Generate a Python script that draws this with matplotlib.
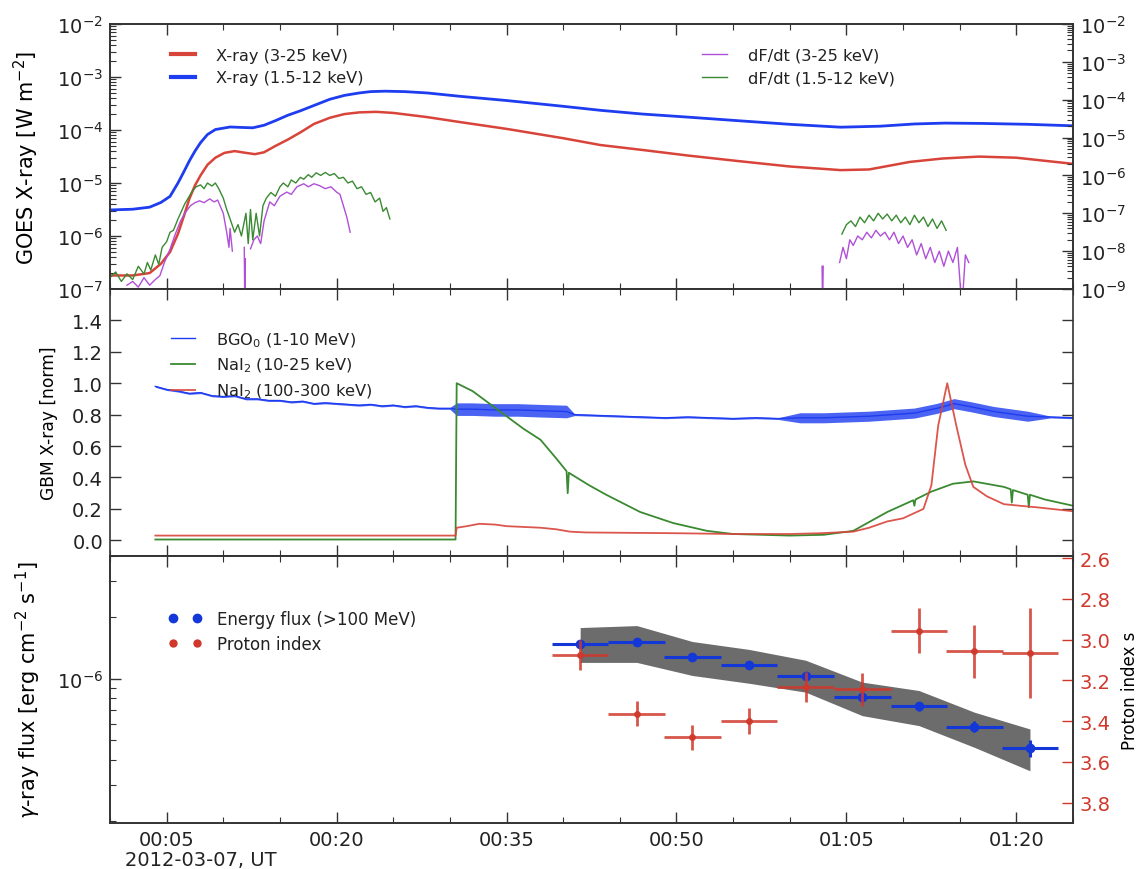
import numpy as np
import matplotlib
matplotlib.use("Agg")
import matplotlib.pyplot as plt
from matplotlib.lines import Line2D
from matplotlib.ticker import (MultipleLocator, FixedLocator, FuncFormatter,
                               LogLocator, NullFormatter)

# ---------------- data (time in minutes after 2012-03-07 00:00 UT) -------------
# GOES X-ray (1.5-12 keV)
goes_long_t = [0, 2, 3.5, 4.5, 5.3, 6, 6.5, 7, 7.5, 8, 8.6, 9.3, 10.6, 11.5, 12.6, 13.6,
               14.6, 15.7, 16.8, 18, 19.4, 20.7, 22, 23, 24.3, 26, 28, 31, 35, 40, 43.3,
               47, 51, 55.4, 60, 64.5, 68, 71, 73.7, 77, 81, 85]
goes_long = [3.1e-6, 3.2e-6, 3.5e-6, 4.3e-6, 5.6e-6, 1.0e-5, 1.6e-5, 2.6e-5, 4.0e-5,
             5.8e-5, 8.2e-5, 1.02e-4, 1.14e-4, 1.12e-4, 1.1e-4, 1.23e-4, 1.5e-4, 1.9e-4,
             2.3e-4, 2.9e-4, 3.8e-4, 4.5e-4, 5.0e-4, 5.3e-4, 5.4e-4, 5.3e-4, 5.0e-4,
             4.3e-4, 3.6e-4, 2.8e-4, 2.35e-4, 2.0e-4, 1.75e-4, 1.5e-4, 1.28e-4, 1.13e-4,
             1.18e-4, 1.3e-4, 1.35e-4, 1.33e-4, 1.28e-4, 1.2e-4]
# GOES X-ray (3-25 keV)
goes_short_t = [0, 2, 3.5, 4.5, 5.3, 6, 6.5, 7, 7.5, 8, 8.6, 9.3, 10.1, 11, 12, 12.8,
                13.6, 14.6, 15.7, 16.8, 18, 19.4, 20.7, 22, 23.5, 25, 28, 31, 35, 40,
                43.3, 47, 51, 55.4, 60, 64.5, 67, 70.6, 73.5, 76.7, 80, 85]
goes_short = [1.8e-7, 1.8e-7, 2.0e-7, 3.0e-7, 5.0e-7, 1.1e-6, 2.3e-6, 5.0e-6, 9.0e-6,
              1.4e-5, 2.2e-5, 3.0e-5, 3.7e-5, 4.0e-5, 3.7e-5, 3.5e-5, 3.8e-5, 5.0e-5,
              6.6e-5, 9.0e-5, 1.3e-4, 1.7e-4, 2.0e-4, 2.15e-4, 2.2e-4, 2.1e-4, 1.75e-4,
              1.4e-4, 1.05e-4, 7.0e-5, 5.2e-5, 4.2e-5, 3.3e-5, 2.6e-5, 2.05e-5, 1.75e-5,
              1.8e-5, 2.5e-5, 2.9e-5, 3.15e-5, 3.0e-5, 2.3e-5]

# dF/dt (1.5-12 keV), log10 values, NaN = data gap
dfdt_long_t = [0, 0.5, 1, 1.5, 2, 2.5, 3, 3.3, 3.6, 4, 4.3, 4.6, 5, 5.3, 5.6, 6, 6.3,
               6.6, 7, 7.3, 7.6, 8, 8.3, 8.6, 9, 9.3, 9.6, 10, 10.3, 10.6, 11, 11.3, 11.6,
               12.0, 12.2, 12.4, 12.6, 12.9, 13.2, 13.5, 13.8,
               14.2, 14.6, 15, 15.3, 15.7, 16, 16.4, 16.8, 17.1, 17.5, 17.8, 18.2, 18.6,
               19, 19.4, 19.8, 20.2, 20.6, 21, 21.4, 21.8, 22.2, 22.6, 23, 23.4, 23.8,
               24.1, 24.4, 24.7,
               np.nan,
               64.6, 65, 65.4, 65.8, 66.2, 66.6, 67, 67.4, 67.8, 68.2, 68.6, 69, 69.4,
               69.8, 70.2, 70.6, 71, 71.4, 71.8, 72.2, 72.6, 73, 73.4, 73.8]
dfdt_long_log = [-8.7, -8.55, -8.8, -8.6, -8.75, -8.4, -8.6, -8.3, -8.5, -8.1, -8.35,
                 -7.9, -7.75, -7.5, -7.45, -7.15, -6.95, -6.75, -6.55, -6.4, -6.3, -6.25,
                 -6.35, -6.2, -6.28, -6.2, -6.35, -6.6, -6.9, -7.15, -7.5, -7.3, -7.6,
                 -7.0, -7.8, -6.9, -7.7, -7.0, -7.6, -6.8, -6.6,
                 -6.45, -6.55, -6.3, -6.2, -6.3, -6.12, -6.2, -6.05, -6.1, -5.98, -6.05,
                 -5.93, -6.0, -5.92, -6.0, -5.95, -6.08, -6.05, -6.2, -6.15, -6.35, -6.3,
                 -6.5, -6.45, -6.7, -6.6, -6.95, -6.85, -7.15,
                 np.nan,
                 -7.55, -7.3, -7.2, -7.35, -7.1, -7.25, -7.05, -7.2, -7.0, -7.15, -7.02,
                 -7.2, -7.05, -7.25, -7.1, -7.3, -7.05, -7.25, -7.1, -7.35, -7.15, -7.4,
                 -7.2, -7.45]
# dF/dt (3-25 keV), log10 values
dfdt_short_t = [1.5, 2, 2.5, 3, 3.5, 4, 4.4, 4.8, 5.3, 5.7, 6.2, 6.6, 7.1, 7.5, 7.9, 8.3,
                8.8, 9.2, 9.5, 10, 10.3, 10.5, 10.6, 10.8,
                np.nan, 11.85, 11.9, 11.95, np.nan,
                12.4, 12.7, 13, 13.3, 13.6, 14.1, 14.5, 15, 15.6, 16, 16.5, 17.1, 17.5, 18,
                18.5, 19, 19.5, 20, 20.3, 20.6, 20.9, 21.2,
                np.nan, 62.85, 62.9, 62.95, np.nan,
                64.4, 64.7, 65, 65.3, 65.6, 66, 66.4, 66.8, 67.2, 67.6, 68, 68.4, 68.8,
                69.2, 69.6, 70, 70.4, 70.8, 71.2, 71.6, 72, 72.4, 72.8, 73.2, 73.6, 74,
                74.4, 74.8, 75.2, 75.5, 75.8]
dfdt_short_log = [-8.9, -8.8, -8.95, -8.7, -8.9, -8.75, -8.65, -8.3, -7.95, -7.6, -7.22,
                  -7.0, -6.8, -6.72, -6.67, -6.72, -6.62, -6.7, -6.65, -7.0, -7.5, -7.9,
                  -7.4, -8.0,
                  np.nan, -7.9, -9.5, -8.2, np.nan,
                  -7.94, -7.7, -7.6, -7.8, -7.2, -6.7, -6.8, -6.55, -6.44, -6.5, -6.3,
                  -6.22, -6.3, -6.22, -6.27, -6.35, -6.3, -6.44, -6.5, -6.8, -7.1, -7.5,
                  np.nan, -8.4, -9.5, -8.4, np.nan,
                  -8.3, -7.9, -8.2, -7.7, -7.85, -7.6, -7.7, -7.5, -7.65, -7.45, -7.6,
                  -7.5, -7.7, -7.5, -7.8, -7.6, -7.9, -7.7, -8.1, -7.8, -8.2, -7.9, -8.3,
                  -8.0, -8.4, -8.0, -8.3, -7.9, -9.5, -8.1, -8.3]

# GBM BGO (1-10 MeV): level and half-width of the noise band
bgo_t = [4, 5, 6, 7, 8, 9, 10, 11, 12, 13, 14, 15, 16, 17, 18, 19, 20, 21, 22, 23, 24,
         25, 26, 27, 28, 29, 30, 30.6, 32, 34, 36, 38, 40.3, 41, 43, 45, 47, 49, 51, 53,
         55, 57, 59, 60.9, 63, 65, 67, 69, 71, 73, 74.5, 76, 78, 80, 81, 83, 85]
bgo = [0.98, 0.96, 0.95, 0.935, 0.94, 0.92, 0.915, 0.92, 0.90, 0.90, 0.89, 0.89, 0.88,
       0.885, 0.87, 0.875, 0.87, 0.865, 0.86, 0.865, 0.855, 0.86, 0.85, 0.855, 0.845,
       0.84, 0.84, 0.835, 0.835, 0.83, 0.83, 0.825, 0.82,
       0.80, 0.795, 0.79, 0.785, 0.78, 0.785, 0.78, 0.775, 0.78, 0.775,
       0.78, 0.78, 0.785, 0.79, 0.80, 0.81, 0.84, 0.87, 0.85, 0.82, 0.80, 0.79,
       0.785, 0.78]
bgo_spread = [0.006] * 27 + [0.04] * 6 + [0.006] * 10 + [0.032] * 12 + [0.006] * 2

# GBM NaI (10-25 keV)
nai_lo_t = [4, 30.5, 30.6, 32, 33.5, 35, 36.5, 38, 39.4, 40.3, 40.4, 40.5, 42.3, 43.8,
            46.8, 49.7, 52.7, 55, 60, 63, 65.6, 68.6, 70.9, 71.0, 71.1, 72.5, 74.4, 76.2,
            78.9, 79.5, 79.6, 79.7, 81.0, 81.1, 81.2, 82.5, 85]
nai_lo = [0.005, 0.005, 1.0, 0.95, 0.87, 0.79, 0.71, 0.64, 0.52, 0.44, 0.30, 0.43, 0.35,
          0.29, 0.18, 0.11, 0.06, 0.04, 0.03, 0.035, 0.06, 0.18, 0.255, 0.22, 0.26, 0.31,
          0.36, 0.375, 0.34, 0.325, 0.24, 0.32, 0.29, 0.21, 0.29, 0.26, 0.22]
# GBM NaI (100-300 keV)
nai_hi_t = [4, 30.5, 30.6, 31.5, 32.6, 34, 35, 36.5, 38, 39.4, 40.6, 42, 45, 50, 55, 60,
            62.7, 65.6, 67, 68.6, 70, 70.6, 71.8, 72.5, 73.1, 73.9, 74.7, 75.5, 76.2,
            77.4, 78.9, 80.3, 81.8, 85]
nai_hi = [0.03, 0.03, 0.08, 0.09, 0.105, 0.10, 0.09, 0.085, 0.08, 0.07, 0.055, 0.05,
          0.048, 0.045, 0.04, 0.04, 0.045, 0.055, 0.08, 0.12, 0.14, 0.16, 0.2, 0.35, 0.73,
          1.0, 0.73, 0.48, 0.34, 0.28, 0.23, 0.22, 0.21, 0.185]

# LAT gamma-ray results (5-min bins)
bin_t = [41.5, 46.5, 51.4, 56.4, 61.4, 66.4, 71.4, 76.3, 81.2]
bin_half = 2.5
eflux = [1.48e-6, 1.52e-6, 1.28e-6, 1.17e-6, 1.03e-6, 8.1e-7, 7.3e-7, 5.8e-7, 4.55e-7]
eflux_err = [0.05e-6, 0.05e-6, 0.045e-6, 0.04e-6, 0.04e-6, 0.04e-6, 0.035e-6, 0.035e-6,
             0.045e-6]
band_hi = [1.78e-6, 1.82e-6, 1.52e-6, 1.39e-6, 1.23e-6, 0.96e-6, 0.873e-6, 0.683e-6,
           0.565e-6]
band_lo = [1.20e-6, 1.20e-6, 1.035e-6, 0.948e-6, 0.857e-6, 0.657e-6, 0.587e-6, 0.459e-6,
           0.352e-6]
pindex = [3.075, 3.363, 3.48, 3.40, 3.233, 3.244, 2.956, 3.057, 3.067]
pindex_err = [0.073, 0.06, 0.063, 0.063, 0.075, 0.08, 0.11, 0.13, 0.22]

xtick_minutes = [5, 20, 35, 50, 65, 80]
proton_ticks = [2.6, 2.8, 3.0, 3.2, 3.4, 3.6, 3.8]

# ---------------- styling ----------------
C_BLUE = '#1e3cf0'
C_RED = '#d8443a'
C_GREEN = '#3a8a32'
C_PURPLE = '#b04fd8'
C_TXT = '#222222'
C_SPINE = '#333333'
C_PRED = '#d0382c'

plt.rcParams['font.family'] = ['DejaVu Sans']
plt.rcParams['axes.linewidth'] = 1.2
plt.rcParams['axes.unicode_minus'] = False
plt.rcParams['text.color'] = C_TXT

fig = plt.figure(figsize=(11.38, 8.70), dpi=100)
L, W = 110 / 1138, 963 / 1138
ax1 = fig.add_axes([L, 1 - 290 / 870, W, 265 / 870])
ax2 = fig.add_axes([L, 1 - 557 / 870, W, 267 / 870], sharex=ax1)
ax3 = fig.add_axes([L, 1 - 824 / 870, W, 267 / 870], sharex=ax1)

LEG = dict(frameon=False, fontsize=11.7, handlelength=1.5, handletextpad=1.3,
           labelspacing=0.45, loc='upper left')


def hhmm(x, pos=None):
    m = int(round(x))
    return f"{m // 60:02d}:{m % 60:02d}"


def style(ax, left=True, right=True, size=14):
    ax.tick_params(which='both', direction='in', top=True, bottom=True,
                   left=left, right=right, colors=C_SPINE, labelcolor=C_TXT,
                   labelsize=size)
    ax.tick_params(which='major', length=8, width=1.0, pad=5)
    ax.tick_params(which='minor', length=4, width=0.8)
    for s in ax.spines.values():
        s.set_color(C_SPINE)


def logticks(ax):
    ax.yaxis.set_major_locator(LogLocator(base=10, numticks=20))
    ax.yaxis.set_minor_locator(LogLocator(base=10, subs=np.arange(2, 10), numticks=50))
    ax.yaxis.set_minor_formatter(NullFormatter())


# ---- top panel: GOES ----
ax1.plot(goes_short_t, goes_short, color=C_RED, lw=1.8, label='X-ray (3-25 keV)')
ax1.plot(goes_long_t, goes_long, color=C_BLUE, lw=2.0, label='X-ray (1.5-12 keV)')
ax1.set_yscale('log')
ax1.set_ylim(1e-7, 1e-2)
ax1.set_ylabel('GOES X-ray [W m$^{-2}$]', fontsize=15)
ax1.yaxis.set_label_coords(-0.072, 0.5)
style(ax1, right=False)
logticks(ax1)
leg1 = ax1.legend(bbox_to_anchor=(0.048, 0.965), **LEG)
for ln in leg1.get_lines():
    ln.set_linewidth(3)

ax1t = ax1.twinx()
ax1t.plot(dfdt_short_t, 10 ** np.array(dfdt_short_log), color=C_PURPLE, lw=1.0,
          label='dF/dt (3-25 keV)')
ax1t.plot(dfdt_long_t, 10 ** np.array(dfdt_long_log), color=C_GREEN, lw=1.0,
          label='dF/dt (1.5-12 keV)')
ax1t.set_yscale('log')
ax1t.set_ylim(1e-9, 1e-2)
style(ax1t, left=False, right=True)
logticks(ax1t)
ax1t.legend(bbox_to_anchor=(0.60, 0.965), **LEG)

# ---- middle panel: GBM ----
ax2.fill_between(bgo_t, np.array(bgo) - np.array(bgo_spread),
                 np.array(bgo) + np.array(bgo_spread), color=C_BLUE, lw=0, alpha=0.8)
ax2.plot(bgo_t, bgo, color=C_BLUE, lw=1.0, label='BGO$_0$ (1-10 MeV)')
ax2.plot(nai_lo_t, nai_lo, color=C_GREEN, lw=1.3, label='NaI$_2$ (10-25 keV)')
ax2.plot(nai_hi_t, nai_hi, color=C_RED, lw=1.3, alpha=0.9, label='NaI$_2$ (100-300 keV)')
ax2.set_ylim(-0.1, 1.6)
ax2.yaxis.set_major_locator(FixedLocator([0.0, 0.2, 0.4, 0.6, 0.8, 1.0, 1.2, 1.4]))
ax2.yaxis.set_major_formatter(FuncFormatter(lambda v, p: f"{v:.1f}"))
ax2.set_ylabel('GBM X-ray [norm]', fontsize=12.3)
ax2.yaxis.set_label_coords(-0.054, 0.5)
style(ax2)
ax2.legend(bbox_to_anchor=(0.048, 0.90), **LEG)

# ---- bottom panel: LAT ----
ax3.set_yscale('log')
ax3.fill_between(bin_t, band_lo, band_hi, color='#6c6c6c', lw=0, zorder=1)
ax3.errorbar(bin_t, eflux, xerr=bin_half, yerr=eflux_err, fmt='o', color='#1438d8',
             ms=6, lw=2.2, capsize=0, zorder=3)
ax3.set_ylim(1.95e-7, 4.0e-6)
logticks(ax3)
ax3.set_ylabel(r'$\gamma$-ray flux [erg cm$^{-2}$ s$^{-1}$]', fontsize=15)
ax3.yaxis.set_label_coords(-0.07, 0.5)
style(ax3, right=False)

ax3t = ax3.twinx()
ax3t.errorbar(bin_t, pindex, xerr=bin_half, yerr=pindex_err, fmt='o', color=C_PRED,
              ms=4, lw=2.0, capsize=0, alpha=0.85)
ax3t.set_ylim(3.9, 2.59)
ax3t.yaxis.set_major_locator(FixedLocator(proton_ticks))
ax3t.yaxis.set_major_formatter(FuncFormatter(lambda v, p: f"{v:.1f}"))
style(ax3t, left=False, right=True)
ax3t.tick_params(axis='y', colors=C_PRED, labelcolor=C_PRED)
ax3t.set_ylabel('Proton index s', fontsize=12)
ax3t.yaxis.set_label_coords(1.05, 0.5)
handles = [Line2D([], [], marker='o', ls='none', color='#1438d8', ms=6),
           Line2D([], [], marker='o', ls='none', color=C_PRED, ms=5)]
ax3t.legend(handles, ['Energy flux (>100 MeV)', 'Proton index'],
            bbox_to_anchor=(0.045, 0.855), frameon=False, numpoints=2, fontsize=12,
            handlelength=2.0, handletextpad=0.9, labelspacing=0.45, loc='upper left')

# ---- shared x axis ----
ax1.set_xlim(0, 85)
ax3.xaxis.set_major_locator(FixedLocator(xtick_minutes))
ax3.xaxis.set_minor_locator(MultipleLocator(5))
ax3.xaxis.set_major_formatter(FuncFormatter(hhmm))
ax1.tick_params(axis='x', labelbottom=False)
ax2.tick_params(axis='x', labelbottom=False)
fig.text(125 / 1138, 1 - 861 / 870, '2012-03-07, UT', fontsize=14, ha='left',
         va='center', color=C_TXT)

fig.savefig('out.png', dpi=100)
